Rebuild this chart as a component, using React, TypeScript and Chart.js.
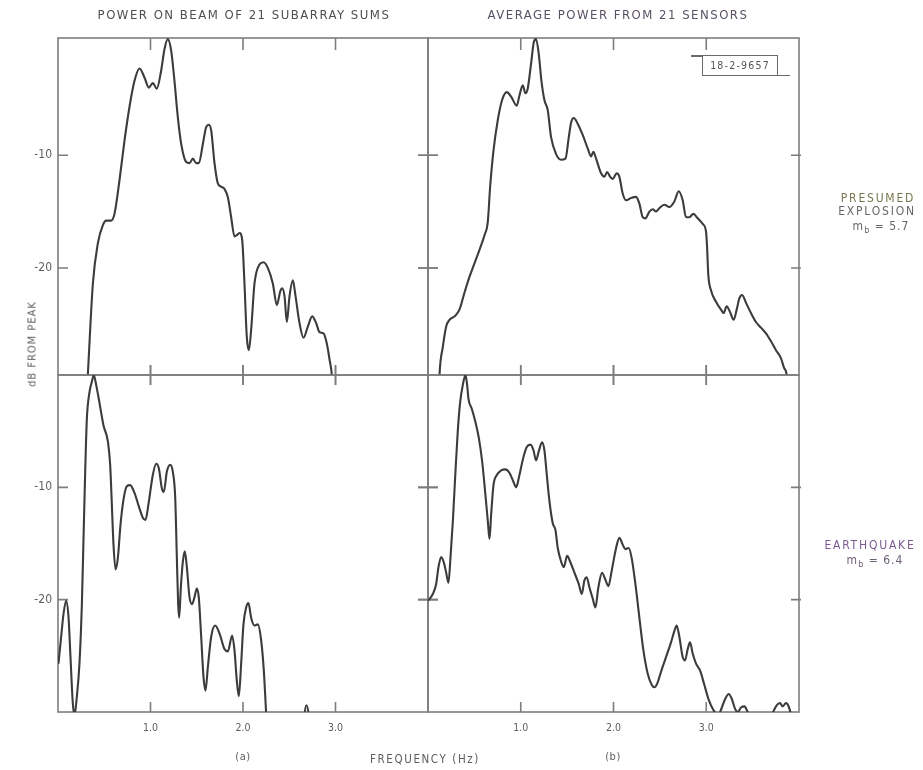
import React, { useEffect, useRef } from "react";
import { Chart, registerables } from "chart.js";

Chart.register(...registerables);

// ---------- data ----------
// (a) top: power on beam of 21 subarray sums, presumed explosion
const explosionBeamHz = [
  0.3, 0.3225, 0.377, 0.431, 0.485, 0.521, 0.575, 0.611, 0.665, 0.719,
  0.773, 0.827, 0.881, 0.935, 0.982, 1.025, 1.068, 1.115, 1.151, 1.187,
  1.223, 1.259, 1.295, 1.332, 1.386, 1.422, 1.458, 1.494, 1.523, 1.566,
  1.602, 1.631, 1.656, 1.692, 1.728, 1.764, 1.8, 1.836, 1.872, 1.908,
  1.933, 1.962, 1.991, 2.016, 2.041, 2.063, 2.088, 2.124, 2.178, 2.222,
  2.268, 2.323, 2.366, 2.402, 2.423, 2.449, 2.474, 2.503, 2.539, 2.568,
  2.611, 2.654, 2.701, 2.748, 2.791, 2.827, 2.87, 2.906, 2.935, 2.964,
  2.98,
];
const explosionBeamDb = [
  -33, -29.5, -21.4, -17.8, -16.2, -15.8, -15.8, -15.2, -12.2, -8.7,
  -5.7, -3.4, -2.3, -3.1, -4.0, -3.6, -4.1, -2.5, -0.6, 0.3,
  -0.7, -3.4, -6.6, -9.0, -10.6, -10.7, -10.3, -10.7, -10.7, -9.0,
  -7.5, -7.3, -7.8, -10.7, -12.5, -12.8, -13.0, -13.7, -15.5, -17.2,
  -17.1, -16.9, -17.5, -21.4, -26.1, -27.3, -25.5, -21.4, -19.7, -19.5,
  -20.0, -21.4, -23.3, -22.1, -21.8, -22.5, -24.8, -22.5, -21.1, -22.5,
  -24.9, -26.2, -25.2, -24.3, -24.9, -25.7, -25.8, -26.7, -28.1, -29.9,
  -33,
];

// (b) top: average power from 21 sensors, presumed explosion
const explosionAvgHz = [
  0.11, 0.124, 0.16, 0.196, 0.232, 0.286, 0.339, 0.393, 0.447, 0.501,
  0.555, 0.609, 0.645, 0.67, 0.706, 0.752, 0.799, 0.85, 0.896, 0.957,
  0.986, 1.022, 1.05, 1.075, 1.111, 1.14, 1.165, 1.194, 1.223, 1.255,
  1.291, 1.327, 1.381, 1.435, 1.482, 1.518, 1.543, 1.572, 1.614, 1.668,
  1.722, 1.758, 1.783, 1.812, 1.866, 1.902, 1.931, 1.963, 1.992, 2.035,
  2.063, 2.099, 2.135, 2.189, 2.243, 2.279, 2.315, 2.344, 2.387, 2.423,
  2.459, 2.494, 2.548, 2.602, 2.656, 2.703, 2.746, 2.782, 2.818, 2.861,
  2.908, 2.962, 2.998, 3.008, 3.022, 3.052, 3.105, 3.159, 3.188, 3.22,
  3.256, 3.296, 3.328, 3.357, 3.386, 3.429, 3.482, 3.536, 3.59, 3.644,
  3.698, 3.752, 3.805, 3.841, 3.867, 3.89,
];
const explosionAvgDb = [
  -33, -29.5, -27.0, -25.2, -24.6, -24.3, -23.7, -22.2, -20.8, -19.6,
  -18.4, -17.1, -15.9, -12.8, -9.6, -6.9, -5.1, -4.4, -4.8, -5.6,
  -4.7, -3.8, -4.5, -4.1, -1.9, 0.0, 0.3, -1.0, -3.4, -5.1,
  -6.0, -8.4, -9.9, -10.4, -10.3, -8.4, -7.1, -6.7, -7.2, -8.2,
  -9.4, -10.1, -9.7, -10.3, -11.6, -11.9, -11.5, -11.9, -12.1, -11.6,
  -11.9, -13.4, -14.0, -13.8, -13.7, -14.3, -15.5, -15.6, -15.0, -14.8,
  -15.0, -14.7, -14.4, -14.6, -14.1, -13.2, -14.0, -15.5, -15.5, -15.2,
  -15.6, -16.1, -16.8, -18.0, -20.6, -22.0, -23.0, -23.7, -24.0, -23.4,
  -23.9, -24.6, -23.7, -22.7, -22.4, -23.1, -24.0, -24.8, -25.3, -25.8,
  -26.5, -27.3, -28.0, -28.9, -29.5, -33,
];

// (a) bottom: power on beam, earthquake
const quakeBeamHz = [
  0.005, 0.034, 0.059, 0.088, 0.114, 0.135, 0.16, 0.178, 0.204, 0.232,
  0.258, 0.276, 0.294, 0.312, 0.341, 0.366, 0.387, 0.413, 0.449, 0.492,
  0.539, 0.564, 0.582, 0.6, 0.622, 0.647, 0.676, 0.708, 0.744, 0.78,
  0.827, 0.874, 0.917, 0.946, 0.978, 1.025, 1.061, 1.09, 1.123, 1.144,
  1.177, 1.213, 1.241, 1.267, 1.285, 1.299, 1.31, 1.328, 1.35, 1.371,
  1.393, 1.422, 1.45, 1.475, 1.501, 1.522, 1.548, 1.573, 1.595, 1.62,
  1.656, 1.699, 1.746, 1.8, 1.836, 1.883, 1.908, 1.933, 1.955, 1.98,
  2.005, 2.034, 2.059, 2.088, 2.124, 2.16, 2.196, 2.225, 2.25, 2.27,
  2.62, 2.686, 2.75,
];
const quakeBeamDb = [
  -25.7, -23.3, -21.3, -20.1, -21.6, -25.1, -29.2, -30.3, -28.6, -25.7,
  -20.4, -14.5, -8.6, -3.9, -1.5, -0.6, 0.0, -0.9, -2.5, -4.5,
  -5.9, -8.0, -11.5, -15.1, -17.3, -16.3, -13.3, -11.1, -9.9, -9.8,
  -10.5, -11.7, -12.7, -12.9, -11.5, -8.9, -7.9, -8.3, -10.1, -10.4,
  -8.6, -8.0, -8.6, -10.9, -16.3, -20.4, -21.6, -18.9, -16.6, -15.7,
  -17.1, -19.8, -20.4, -19.8, -19.0, -19.8, -23.3, -26.9, -28.1, -26.0,
  -23.3, -22.3, -23.0, -24.4, -24.6, -23.2, -24.5, -27.2, -28.6, -25.7,
  -22.2, -20.7, -20.3, -21.6, -22.3, -22.2, -23.6, -26.3, -30.1, -33,
  -33, -29.4, -33,
];

// (b) bottom: average power from 21 sensors, earthquake
const quakeAvgHz = [
  0.0, 0.052, 0.088, 0.113, 0.142, 0.171, 0.196, 0.221, 0.242, 0.268,
  0.296, 0.321, 0.347, 0.375, 0.404, 0.422, 0.436, 0.472, 0.512, 0.548,
  0.584, 0.616, 0.645, 0.663, 0.681, 0.706, 0.742, 0.788, 0.835, 0.878,
  0.921, 0.95, 0.986, 1.029, 1.065, 1.105, 1.137, 1.165, 1.194, 1.23,
  1.255, 1.281, 1.309, 1.345, 1.374, 1.399, 1.435, 1.464, 1.5, 1.532,
  1.579, 1.625, 1.658, 1.686, 1.711, 1.74, 1.776, 1.805, 1.837, 1.876,
  1.912, 1.945, 1.981, 2.028, 2.064, 2.099, 2.128, 2.164, 2.196, 2.236,
  2.279, 2.322, 2.369, 2.413, 2.441, 2.47, 2.513, 2.567, 2.62, 2.656,
  2.681, 2.71, 2.746, 2.771, 2.8, 2.825, 2.854, 2.89, 2.933, 2.98,
  3.026, 3.076, 3.131, 3.159, 3.206, 3.242, 3.274, 3.31, 3.339, 3.375,
  3.411, 3.447, 3.483, 3.6, 3.716, 3.759, 3.795, 3.824, 3.859, 3.888,
  3.914, 3.94,
];
const quakeAvgDb = [
  -20.1, -19.5, -18.6, -17.1, -16.2, -16.7, -17.6, -18.5, -16.3, -13.0,
  -8.6, -5.0, -2.4, -0.9, 0.0, -0.9, -2.1, -3.0, -4.2, -5.6,
  -7.7, -10.4, -13.0, -14.6, -12.4, -9.8, -8.9, -8.5, -8.4, -8.7,
  -9.5, -10.0, -8.9, -7.3, -6.4, -6.2, -6.7, -7.6, -6.8, -6.0,
  -6.7, -8.9, -11.2, -13.2, -13.8, -15.4, -16.6, -17.1, -16.1, -16.6,
  -17.6, -18.6, -19.5, -18.3, -18.0, -18.9, -19.9, -20.7, -18.9, -17.6,
  -18.2, -18.8, -17.4, -15.4, -14.5, -15.1, -15.5, -15.4, -16.3, -18.6,
  -21.6, -24.5, -26.6, -27.6, -27.8, -27.5, -26.4, -25.1, -23.8, -22.8,
  -22.3, -23.3, -25.1, -25.4, -24.4, -23.8, -24.8, -25.7, -26.3, -27.6,
  -28.9, -29.8, -30.3, -29.8, -28.8, -28.4, -28.8, -29.7, -30.0, -29.6,
  -29.5, -30.0, -30.6, -33, -30.1, -29.4, -29.2, -29.5, -29.2, -29.5,
  -30.4, -33,
];

// axis ticks
const freqTicks = [1, 2, 3];
const dbTicks = [-10, -20];
const freqRange = [0, 4];
const topDbRange = [-29.5, 0.4];
const bottomDbRange = [-30, 0];

// ---------- styles ----------
const FONT = "'DejaVu Sans Condensed', 'DejaVu Sans', sans-serif";
const INK = "#3c3c3c";
const FRAME = "#7d7d7d";
const TEXT = "#5e5e5e";

type Ticks = { left: number[]; right: number[]; top: number[]; bottom: number[] };

const framePlugin = {
  id: "frame",
  beforeDatasetsDraw(chart: any, _args: any, opts: any) {
    const { ctx, chartArea: a, scales } = chart;
    const t: Ticks = opts.ticks;
    ctx.save();
    ctx.strokeStyle = FRAME;
    ctx.lineWidth = 1.6;
    ctx.strokeRect(a.left, a.top, a.right - a.left, a.bottom - a.top);
    ctx.beginPath();
    for (const v of freqTicks) {
      const px = scales.x.getPixelForValue(v);
      ctx.moveTo(px, a.top - t.top[0]);
      ctx.lineTo(px, a.top + t.top[1]);
      ctx.moveTo(px, a.bottom - t.bottom[1]);
      ctx.lineTo(px, a.bottom + t.bottom[0]);
    }
    for (const v of dbTicks) {
      const py = scales.y.getPixelForValue(v);
      ctx.moveTo(a.left - t.left[0], py);
      ctx.lineTo(a.left + t.left[1], py);
      ctx.moveTo(a.right - t.right[1], py);
      ctx.lineTo(a.right + t.right[0], py);
    }
    ctx.stroke();
    ctx.restore();
  },
};

type PanelCfg = {
  hz: number[];
  db: number[];
  yRange: number[];
  showX: boolean;
  showY: boolean;
  x: number;
  y: number;
  w: number;
  h: number;
  pad: { left: number; top: number; right: number; bottom: number };
  ticks: Ticks;
};

function Panel({ cfg }: { cfg: PanelCfg }) {
  const ref = useRef<HTMLCanvasElement>(null);
  useEffect(() => {
    const chart = new Chart(ref.current as HTMLCanvasElement, {
      type: "line",
      data: {
        datasets: [
          {
            data: cfg.hz.map((x, i) => ({ x, y: cfg.db[i] })),
            borderColor: INK,
            borderWidth: 2.1,
            pointRadius: 0,
            fill: false,
            cubicInterpolationMode: "monotone",
          },
        ],
      },
      options: {
        responsive: false,
        animation: false,
        events: [],
        layout: { padding: cfg.pad, autoPadding: false },
        plugins: {
          legend: { display: false },
          tooltip: { enabled: false },
          frame: { ticks: cfg.ticks },
        } as any,
        scales: {
          x: {
            type: "linear",
            min: freqRange[0],
            max: freqRange[1],
            display: cfg.showX,
            grid: { display: false, drawTicks: false },
            border: { display: false },
            afterBuildTicks: (s: any) => {
              s.ticks = freqTicks.map((v) => ({ value: v }));
            },
            afterFit: (s: any) => {
              s.height = cfg.showX ? 33 : 0;
            },
            ticks: {
              padding: 10,
              color: TEXT,
              font: { family: FONT, size: 10.5 },
              autoSkip: false,
              maxRotation: 0,
              callback: (v: any) => Number(v).toFixed(1),
            },
          },
          y: {
            type: "linear",
            min: cfg.yRange[0],
            max: cfg.yRange[1],
            display: cfg.showY,
            grid: { display: false, drawTicks: false },
            border: { display: false },
            afterBuildTicks: (s: any) => {
              s.ticks = dbTicks.map((v) => ({ value: v }));
            },
            afterFit: (s: any) => {
              s.width = cfg.showY ? 58 : 0;
            },
            ticks: {
              padding: 6,
              color: TEXT,
              font: { family: FONT, size: 12 },
              autoSkip: false,
              callback: (v: any) => String(v),
            },
          },
        },
      } as any,
      plugins: [framePlugin as any],
    });
    return () => chart.destroy();
  }, []);
  return (
    <canvas
      ref={ref}
      width={cfg.w}
      height={cfg.h}
      style={{ position: "absolute", left: cfg.x, top: cfg.y, width: cfg.w, height: cfg.h }}
    />
  );
}

// plot areas: left column x 58..428, right column 428..799; top row y 38..375, bottom row 375..712
const panels: PanelCfg[] = [
  {
    hz: explosionBeamHz, db: explosionBeamDb, yRange: topDbRange, showX: false, showY: true,
    x: 0, y: 22, w: 444, h: 369, pad: { left: 0, top: 16, right: 16, bottom: 16 },
    ticks: { left: [0, 10], right: [10, 10], top: [0, 12], bottom: [10, 10] },
  },
  {
    hz: explosionAvgHz, db: explosionAvgDb, yRange: topDbRange, showX: false, showY: false,
    x: 412, y: 22, w: 403, h: 369, pad: { left: 16, top: 16, right: 16, bottom: 16 },
    ticks: { left: [10, 10], right: [2, 8], top: [0, 12], bottom: [10, 10] },
  },
  {
    hz: quakeBeamHz, db: quakeBeamDb, yRange: bottomDbRange, showX: true, showY: true,
    x: 0, y: 359, w: 444, h: 386, pad: { left: 0, top: 16, right: 16, bottom: 0 },
    ticks: { left: [0, 10], right: [10, 10], top: [10, 10], bottom: [0, 10] },
  },
  {
    hz: quakeAvgHz, db: quakeAvgDb, yRange: bottomDbRange, showX: true, showY: false,
    x: 412, y: 359, w: 403, h: 386, pad: { left: 16, top: 16, right: 16, bottom: 0 },
    ticks: { left: [10, 10], right: [2, 8], top: [10, 10], bottom: [0, 10] },
  },
];

function Label({
  cx, top, children, size = 12, color = TEXT, spacing = 1,
}: { cx: number; top: number; children: React.ReactNode; size?: number; color?: string; spacing?: number }) {
  return (
    <div
      style={{
        position: "absolute", left: cx - 200, width: 400, top, textAlign: "center",
        fontSize: size, lineHeight: `${size + 3}px`, color, letterSpacing: spacing, whiteSpace: "nowrap",
      }}
    >
      {children}
    </div>
  );
}

export default function App() {
  return (
    <div
      style={{
        position: "absolute", left: 0, top: 0, width: 923, height: 770,
        background: "#ffffff", fontFamily: FONT, overflow: "hidden",
      }}
    >
      {panels.map((p, i) => (
        <Panel key={i} cfg={p} />
      ))}

      <Label cx={244} top={7} size={13} spacing={1.5} color="#4e4e4e">POWER ON BEAM OF 21 SUBARRAY SUMS</Label>
      <Label cx={618} top={7} size={13} spacing={1.5} color="#5a5064">AVERAGE POWER FROM 21 SENSORS</Label>

      <div
        style={{
          position: "absolute", left: 32, top: 344, transform: "translate(-50%, -50%) rotate(-90deg)",
          fontSize: 11, color: TEXT, letterSpacing: 1, whiteSpace: "nowrap",
        }}
      >
        dB FROM PEAK
      </div>

      <Label cx={243} top={750} size={11} spacing={0.5}>(a)</Label>
      <Label cx={613} top={750} size={11} spacing={0.5}>(b)</Label>
      <Label cx={425} top={752} size={11.5} spacing={1.6}>FREQUENCY (Hz)</Label>

      <Label cx={878} top={191} size={12} spacing={1.8} color="#77784f">PRESUMED</Label>
      <Label cx={877} top={204} size={12} spacing={1.8} color="#666666">EXPLOSION</Label>
      <Label cx={881} top={219} size={12} spacing={1} color="#666666">
        m<sub style={{ fontSize: 9 }}>b</sub> = 5.7
      </Label>
      <Label cx={870} top={538} size={12} spacing={1.8} color="#7d5b90">EARTHQUAKE</Label>
      <Label cx={875} top={553} size={12} spacing={1} color="#6e6078">
        m<sub style={{ fontSize: 9 }}>b</sub> = 6.4
      </Label>

      {/* drawing number stamp */}
      <div
        style={{
          position: "absolute", left: 702, top: 55, width: 76, height: 21, boxSizing: "border-box",
          border: "1.5px solid #6a6a6a", fontSize: 10.5, color: "#555", letterSpacing: 1.2,
          textAlign: "center", lineHeight: "18px", whiteSpace: "nowrap",
        }}
      >
        18-2-9657
      </div>
      <div style={{ position: "absolute", left: 691, top: 55, width: 12, height: 1.5, background: "#6a6a6a" }} />
      <div style={{ position: "absolute", left: 777, top: 74.5, width: 13, height: 1.5, background: "#6a6a6a" }} />
    </div>
  );
}
